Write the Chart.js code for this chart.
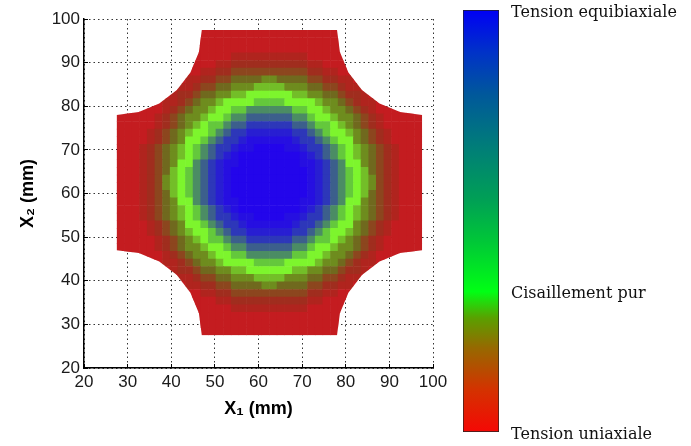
<!DOCTYPE html>
<html lang="fr">
<head>
    <meta charset="UTF-8">
    <title>Rapport de déformation</title>
    <script src="https://cdn.jsdelivr.net/npm/chart.js@4.4.1/dist/chart.umd.min.js"></script>
    <style>
        html, body { margin: 0; padding: 0; background: #fff; }
        .wrap { position: relative; width: 691px; height: 446px; }
        #mapChart { position: absolute; left: 0; top: 0; }
        #barChart { position: absolute; left: 455px; top: 0; }
    </style>
</head>
<body>
<div class="wrap">
    <canvas id="mapChart" width="460" height="446"></canvas>
    <canvas id="barChart" width="236" height="446"></canvas>
</div>
<script>
    // centres des cellules (mm), valables pour X1 et X2
    const cellCenters = [28.375, 30.125, 31.875, 33.625, 35.375, 37.125, 38.875, 40.625, 42.375, 44.125,
        45.875, 47.625, 49.375, 51.125, 52.875, 54.625, 56.375, 58.125, 59.875, 61.625,
        63.375, 65.125, 66.875, 68.625, 70.375, 72.125, 73.875, 75.625, 77.375, 79.125,
        80.875, 82.625, 84.375, 86.125, 87.875, 89.625, 91.375, 93.125, 94.875, 96.625];
    const cellSize = 1.75;

    // contour de l'eprouvette cruciforme (mm)
    const outlineX1 = [47, 78, 78.66, 80.61, 83.71, 87.75, 92.45, 97.5, 97.5, 92.45, 87.75, 83.71, 80.61, 78.66, 78,
        47, 46.34, 44.39, 41.29, 37.25, 32.55, 27.5, 27.5, 32.55, 37.25, 41.29, 44.39, 46.34];
    const outlineX2 = [97.5, 97.5, 92.45, 87.75, 83.71, 80.61, 78.66, 78, 47, 46.34, 44.39, 41.29, 37.25, 32.55, 27.5,
        27.5, 32.55, 37.25, 41.29, 44.39, 46.34, 47, 78, 78.66, 80.61, 83.71, 87.75, 92.45];

    // niveaux : A = equibiaxiale ... H = cisaillement pur ... O = uniaxiale, '.' = hors eprouvette
    const levelKeys = 'ABCDEFGHIJKLMNO';
    const heatColors = ['rgb(35,5,235)', 'rgb(38,15,225)', 'rgb(40,30,210)', 'rgb(45,55,185)', 'rgb(60,95,140)',
        'rgb(75,140,100)', 'rgb(100,200,60)', 'rgb(125,245,45)', 'rgb(115,190,40)', 'rgb(110,140,30)',
        'rgb(112,105,30)', 'rgb(140,70,30)', 'rgb(160,45,30)', 'rgb(176,36,30)', 'rgb(196,28,32)'];

    // carte, ligne du haut (X2 = 96.6) vers le bas
    const strainMap = [
        '...........OOOOOOOOOOOOOOOOOO...........',
        '..........OOOOOOOOOOOOOOOOOOOO..........',
        '..........OOOOOOOOOOOOOOOOOOOO..........',
        '..........OOOOONNNNNNNNNNOOOOO..........',
        '.........OOOONNMMMMMMMMMMNNOOOO.........',
        '.........OONNMMLLLLLLLLLLMMNNOO.........',
        '........ONNMMLLKKKKJJKKKKLLMMNNO........',
        '.......ONNMLLKKJJJIIIIJJJKKLLMNNO.......',
        '......ONMMLKKJJIIHHHHHHIIJJKKLMMNO......',
        '....OONNMLKJJIHHHHGGGGHHHHIJJKLMNNOO....',
        '.OOOOONMLKJJIHHGGFFFFFFGGHHIJJKLMNOOOOO.',
        'OOOOONMLKJJIHHGFFEEEEEEFFGHHIJJKLMNOOOOO',
        'OOOOONMLKJIHGGFEEDDDDDDEEFGGHIJKLMNOOOOO',
        'OOOONMLKJIHHGFEDDCCCCCCDDEFGHHIJKLMNOOOO',
        'OOOONMLKJHHGFEDDCBBBBBBCDDEFGHHJKLMNOOOO',
        'OOONMLKJIHGFEDDCBBAAAABBCDDEFGHIJKLMNOOO',
        'OOONMLKJIHGFEDCBAAAAAAAABCDEFGHIJKLMNOOO',
        'OOONMLKJHHFEDCBBAAAAAAAABBCDEFHHJKLMNOOO',
        'OOONMLKIHGFEDCBAAAAAAAAAABCDEFGHIKLMNOOO',
        'OOONMLJIHGFEDCBAAAAAAAAAABCDEFGHIJLMNOOO',
        'OOONMLJIHGFEDCBAAAAAAAAAABCDEFGHIJLMNOOO',
        'OOONMLKIHGFEDCBAAAAAAAAAABCDEFGHIKLMNOOO',
        'OOONMLKJHHFEDCBBAAAAAAAABBCDEFHHJKLMNOOO',
        'OOONMLKJIHGFEDCBAAAAAAAABCDEFGHIJKLMNOOO',
        'OOONMLKJIHGFEDDCBBAAAABBCDDEFGHIJKLMNOOO',
        'OOOONMLKJHHGFEDDCBBBBBBCDDEFGHHJKLMNOOOO',
        'OOOONMLKJIHHGFEDDCCCCCCDDEFGHHIJKLMNOOOO',
        'OOOOONMLKJIHGGFEEDDDDDDEEFGGHIJKLMNOOOOO',
        'OOOOONMLKJJIHHGFFEEEEEEFFGHHIJJKLMNOOOOO',
        '.OOOOONMLKJJIHHGGFFFFFFGGHHIJJKLMNOOOOO.',
        '....OONNMLKJJIHHHHGGGGHHHHIJJKLMNNOO....',
        '......ONMMLKKJJIIHHHHHHIIJJKKLMMNO......',
        '.......ONNMLLKKJJJIIIIJJJKKLLMNNO.......',
        '........ONNMMLLKKKKJJKKKKLLMMNNO........',
        '.........OONNMMLLLLLLLLLLMMNNOO.........',
        '.........OOOONNMMMMMMMMMMNNOOOO.........',
        '..........OOOOONNNNNNNNNNOOOOO..........',
        '..........OOOOOOOOOOOOOOOOOOOO..........',
        '..........OOOOOOOOOOOOOOOOOOOO..........',
        '...........OOOOOOOOOOOOOOOOOO...........'
    ];

    // barre de couleur : rapport de deformation
    const barRange = [-0.5, 1];
    const barTickValues = [-0.5, 0, 0.5, 1];
    const barTickLabels = ['Tension uniaxiale', 'Cisaillement pur', '', 'Tension equibiaxiale'];
    const barStops = [
        [0, 'rgb(245,8,5)'], [0.1, 'rgb(212,50,0)'], [0.2, 'rgb(150,105,0)'], [0.27, 'rgb(90,160,0)'],
        [0.333, 'rgb(0,255,20)'], [0.45, 'rgb(0,200,55)'], [0.55, 'rgb(0,160,85)'], [0.667, 'rgb(0,128,118)'],
        [0.8, 'rgb(0,88,155)'], [0.9, 'rgb(0,50,200)'], [1, 'rgb(0,0,245)']
    ];

    const points = [];
    const colors = [];
    strainMap.forEach((row, j) => {
        const y = cellCenters[cellCenters.length - 1 - j];
        for (let i = 0; i < row.length; i++) {
            const k = levelKeys.indexOf(row[i]);
            if (k < 0) continue;
            points.push({x: cellCenters[i], y: y});
            colors.push(heatColors[k]);
        }
    });

    const tickFont = {family: "'Liberation Sans', Arial, sans-serif", size: 17};
    const titleFont = {family: "'Liberation Sans', Arial, sans-serif", size: 18, weight: 'bold'};

    function cellRadius(ctx) {
        const sx = ctx.chart.scales.x;
        const px = Math.abs(sx.getPixelForValue(cellSize) - sx.getPixelForValue(0));
        return (px + 0.6) * Math.SQRT1_2;
    }

    // decoupe les cellules au contour de l'eprouvette
    const specimenClip = {
        id: 'specimenClip',
        beforeDatasetsDraw(chart) {
            const {ctx, scales: {x, y}} = chart;
            ctx.save();
            ctx.beginPath();
            outlineX1.forEach((v, i) => {
                const px = x.getPixelForValue(v);
                const py = y.getPixelForValue(outlineX2[i]);
                if (i === 0) ctx.moveTo(px, py); else ctx.lineTo(px, py);
            });
            ctx.closePath();
            ctx.clip();
        },
        afterDatasetsDraw(chart) {
            chart.ctx.restore();
        }
    };

    // grille pointillee + petites graduations vers l'interieur (style matlab)
    const axisGrid = {color: '#333', lineWidth: 1, tickLength: -4, tickColor: '#000', tickWidth: 1, tickBorderDash: []};

    new Chart(document.getElementById('mapChart'), {
        type: 'scatter',
        data: {
            datasets: [{
                data: points,
                pointStyle: 'rect',
                pointRadius: cellRadius,
                pointHoverRadius: cellRadius,
                pointBackgroundColor: colors,
                pointBorderWidth: 0
            }]
        },
        options: {
            responsive: false,
            animation: false,
            events: [],
            layout: {padding: {top: 19, right: 27, left: 0, bottom: 0}},
            plugins: {legend: {display: false}, tooltip: {enabled: false}},
            scales: {
                x: {
                    type: 'linear', min: 20, max: 100,
                    afterFit: s => { s.height = 78; },
                    ticks: {stepSize: 10, font: tickFont, color: '#1a1a1a', padding: 8, maxRotation: 0},
                    grid: axisGrid,
                    border: {color: '#000', width: 1.5, dash: [1.5, 3]},
                    title: {display: true, text: 'X₁ (mm)', font: titleFont, color: '#000', padding: {top: 4, bottom: 26}}
                },
                y: {
                    type: 'linear', min: 20, max: 100,
                    afterFit: s => { s.width = 84; },
                    ticks: {stepSize: 10, font: tickFont, color: '#1a1a1a', padding: 8},
                    grid: axisGrid,
                    border: {color: '#000', width: 1.5, dash: [1.5, 3]},
                    title: {display: true, text: 'X₂ (mm)', font: titleFont, color: '#000', padding: {top: 17, bottom: 4}}
                }
            }
        },
        plugins: [specimenClip]
    });

    new Chart(document.getElementById('barChart'), {
        type: 'bar',
        data: {
            labels: [''],
            datasets: [{
                data: [barRange],
                backgroundColor: ctx => {
                    const area = ctx.chart.chartArea;
                    if (!area) return 'rgb(0,255,20)';
                    const g = ctx.chart.ctx.createLinearGradient(0, area.bottom, 0, area.top);
                    barStops.forEach(s => g.addColorStop(s[0], s[1]));
                    return g;
                },
                borderColor: '#222',
                borderWidth: 1,
                borderSkipped: false,
                barPercentage: 1,
                categoryPercentage: 1
            }]
        },
        options: {
            responsive: false,
            animation: false,
            events: [],
            layout: {padding: {top: 10, right: 0, left: 8, bottom: 14}},
            plugins: {legend: {display: false}, tooltip: {enabled: false}},
            scales: {
                x: {display: false},
                y: {
                    position: 'right',
                    min: barRange[0], max: barRange[1],
                    z: 1,
                    afterFit: s => { s.width = 192; s.paddingTop = 0; s.paddingBottom = 0; },
                    afterBuildTicks: s => { s.ticks = barTickValues.map(v => ({value: v})); },
                    ticks: {
                        callback: (v, i) => barTickLabels[i],
                        font: {family: "'DejaVu Serif', serif", size: 16},
                        color: '#111',
                        padding: 12,
                        labelOffset: 3
                    },
                    grid: {
                        drawTicks: false,
                        lineWidth: 1,
                        color: ctx => (ctx.tick && (ctx.tick.value === 0 || ctx.tick.value === 0.5)) ? '#222' : 'rgba(0,0,0,0)'
                    },
                    border: {display: false, dash: [4, 28]}
                }
            }
        }
    });
</script>
</body>
</html>
